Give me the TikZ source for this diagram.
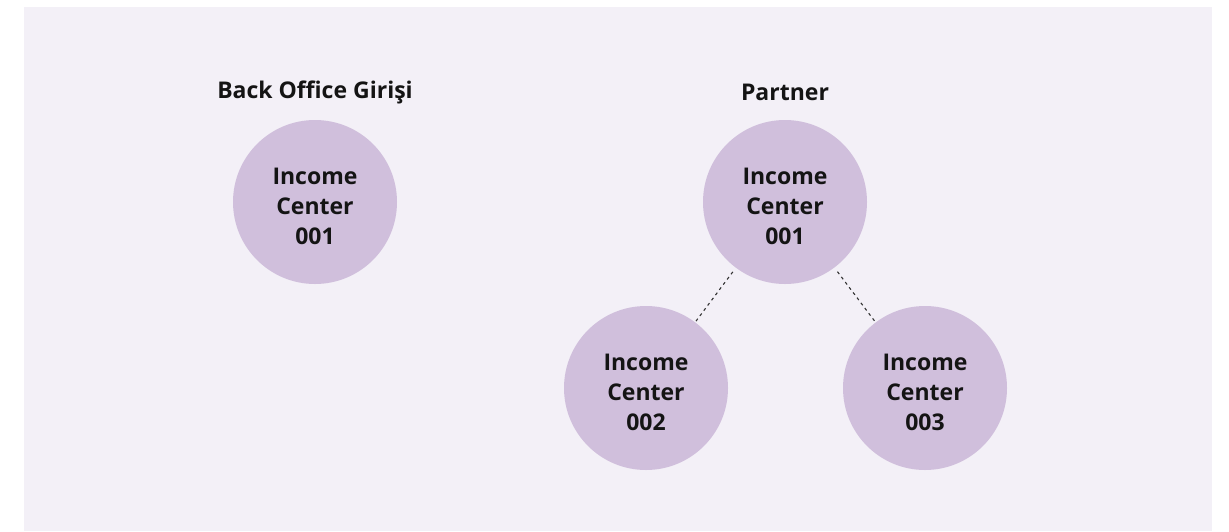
\documentclass[tikz,border=0pt]{standalone}
\usepackage{fontspec}
\setmainfont{Open Sans}
\usepackage{tikz}
\usetikzlibrary{positioning}

\definecolor{pagebg}{HTML}{F3F0F7}
\definecolor{centerfill}{HTML}{D0BFDC}
\definecolor{inktext}{HTML}{141414}

% three lines of a centre, pushed a little below the middle
\newcommand{\centertext}[1]{\raisebox{-6.5pt}[\height][\depth]{\begin{tabular}{@{}c@{}}Income\\Center\\#1\end{tabular}}}

\begin{document}
\begin{tikzpicture}[x=1pt, y=-1pt,
	income/.style={circle, fill=centerfill, minimum size=164pt, inner sep=0pt,
		align=center, text=inktext, font=\fontsize{23}{30}\selectfont\bfseries},
	title/.style={text=inktext, font=\fontsize{23}{26}\selectfont\bfseries},
	link/.style={dashed, dash pattern=on 3pt off 3.5pt, line width=1.1pt,
		color=black!80, shorten <=5pt, shorten >=1pt}]
	\useasboundingbox (0,0) rectangle (1229,531);
	\fill[white] (0,0) rectangle (1229,531);
	\fill[pagebg] (24,7) rectangle (1212,531);
	% back office
	\node[title] (bolabel) at (315,92) {Back Office Girişi};
	\node[income] (bo1) at (315,202) {\centertext{001}};
	% partner
	\node[title] (plabel) at (785,92) {Partner};
	\node[income] (p1) at (785,202) {\centertext{001}};
	\node[income] (p2) at (646,388) {\centertext{002}};
	\node[income] (p3) at (925,388) {\centertext{003}};
	\foreach \c in {p2,p3}
	\draw[link] (p1) -- (\c);
\end{tikzpicture}
\end{document}
